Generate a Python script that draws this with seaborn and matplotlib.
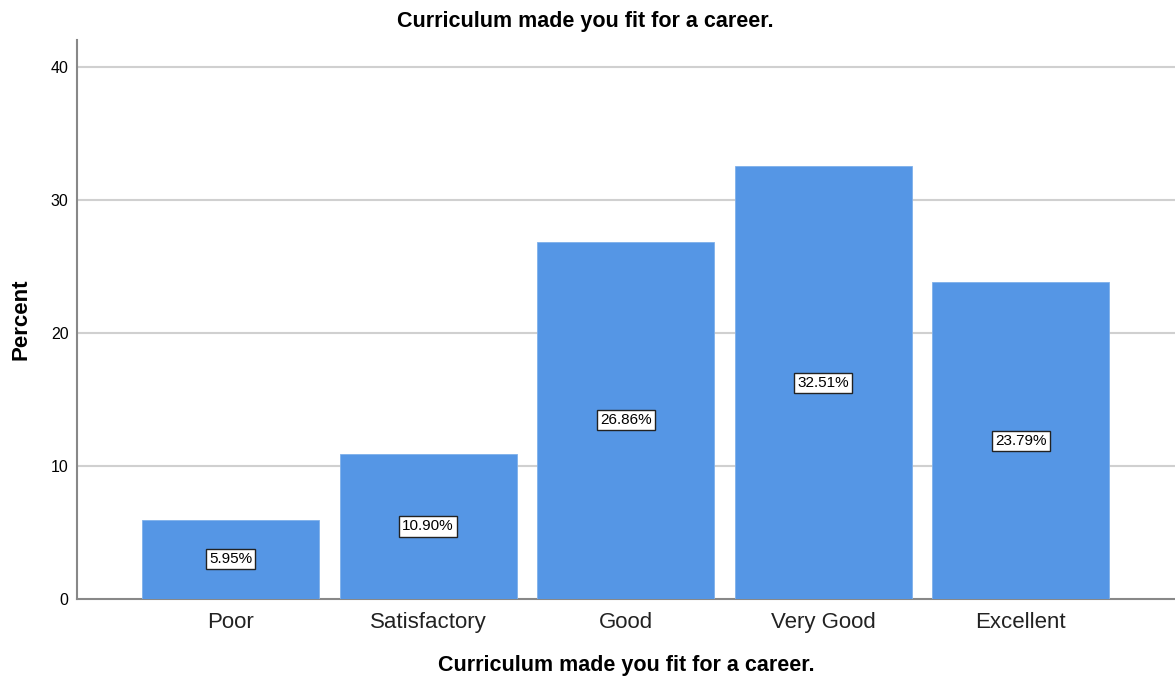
import matplotlib
matplotlib.use("Agg")
import matplotlib.pyplot as plt
import seaborn as sns
import pandas as pd

categories = ["Poor", "Satisfactory", "Good", "Very Good", "Excellent"]
percents = [5.95, 10.90, 26.86, 32.51, 23.79]
y_ticks = [0, 10, 20, 30, 40]

sns.set_style("white")
plt.rcParams['font.family'] = ['Liberation Sans', 'DejaVu Sans']
plt.rcParams['text.color'] = 'black'
plt.rcParams['axes.labelcolor'] = 'black'
plt.rcParams['xtick.color'] = 'black'
plt.rcParams['ytick.color'] = 'black'

df = pd.DataFrame({"cat": categories, "pct": percents})

fig = plt.figure(figsize=(11.75, 6.82), dpi=100)
ax = fig.add_axes([0.0655, 0.1217, 0.9345, 0.8196])

sns.barplot(data=df, x="cat", y="pct", order=categories, color="#5596E5",
            saturation=1, width=0.895, ax=ax, edgecolor="#7FB0EA", linewidth=0.6, zorder=3)

for i, (c, v) in enumerate(zip(categories, percents)):
    ax.text(i, v / 2, f"{v:.2f}%", ha="center", va="center", fontsize=11, color="black",
            zorder=5,
            bbox=dict(boxstyle="square,pad=0.2", facecolor="white", edgecolor="#222222", linewidth=1))

ax.set_ylim(0, 42)
ax.set_xlim(-0.777, 4.78)
ax.set_yticks(y_ticks)
ax.set_yticklabels([str(t) for t in y_ticks], fontsize=11.5)
ax.tick_params(axis="x", labelsize=16, length=0, pad=9, labelcolor="#222222")
ax.tick_params(axis="y", length=0, pad=6, labelcolor="black")
for t in y_ticks[1:]:
    ax.axhline(t, color="#D0D0D0", linewidth=1.5, zorder=1)

for s in ["top", "right"]:
    ax.spines[s].set_visible(False)
for s in ["left", "bottom"]:
    ax.spines[s].set_color("#888888")
    ax.spines[s].set_linewidth(1.5)

ax.set_xlabel("Curriculum made you fit for a career.", fontsize=15.5, fontweight="bold",
              labelpad=16, color="black")
ax.set_ylabel("Percent", fontsize=16, fontweight="bold", labelpad=14, color="black")
fig.text(0.4985, 1 - 22 / 682, "Curriculum made you fit for a career.", ha="center", va="center",
         fontsize=15.5, fontweight="bold", color="black")

fig.savefig("out.png", dpi=100)
